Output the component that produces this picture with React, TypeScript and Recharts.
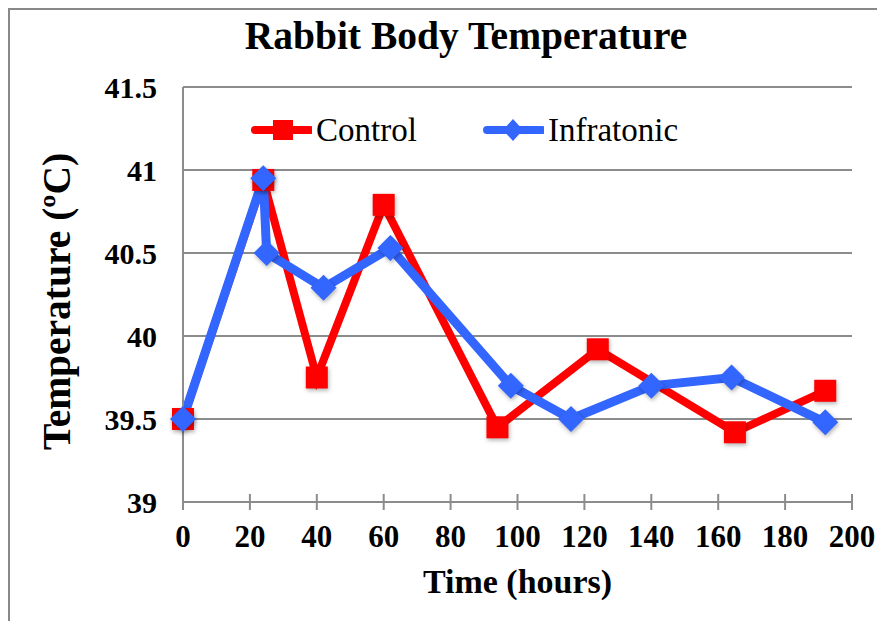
import { LineChart, Line, XAxis, YAxis, CartesianGrid, Legend, Label } from "recharts";

const controlHours = [0, 24, 40, 60, 94, 124, 165, 192];
const controlTemps = [39.5, 40.94, 39.75, 40.79, 39.45, 39.92, 39.42, 39.67];
const infraHours = [0, 24, 25, 42, 62, 98, 116, 140, 164, 192];
const infraTemps = [39.5, 40.95, 40.5, 40.29, 40.53, 39.7, 39.5, 39.7, 39.75, 39.48];
const xTicks = [0, 20, 40, 60, 80, 100, 120, 140, 160, 180, 200];
const yTicks = [39, 39.5, 40, 40.5, 41, 41.5];

const RED = "#ff0000";
const BLUE = "#3366ff";
const GRID = "#8c8c8c";
const FONT = "'Liberation Serif', 'Times New Roman', serif";
const SHADOW = "drop-shadow(1px 2px 2px rgba(0,0,0,0.3))";

const controlData = controlHours.map((h, i) => ({ hour: h, temp: controlTemps[i] }));
const infraData = infraHours.map((h, i) => ({ hour: h, temp: infraTemps[i] }));

function SquareDot(props: any) {
  const { cx, cy } = props;
  if (cx == null || cy == null) return null;
  return <rect x={cx - 11} y={cy - 11} width={22} height={22} fill={RED} style={{ filter: SHADOW }} />;
}

function DiamondDot(props: any) {
  const { cx, cy } = props;
  if (cx == null || cy == null) return null;
  const r = 13;
  return (
    <path
      d={`M${cx},${cy - r}L${cx + r},${cy}L${cx},${cy + r}L${cx - r},${cy}Z`}
      fill={BLUE}
      style={{ filter: SHADOW }}
    />
  );
}

function XTick(props: any) {
  const { x, y, payload } = props;
  const axisY = y - 8;
  return (
    <g>
      <line x1={x} x2={x} y1={axisY - 8} y2={axisY + 8} stroke={GRID} strokeWidth={2} />
      <text x={x} y={axisY + 45} textAnchor="middle" style={{ fontFamily: FONT, fontWeight: "bold", fontSize: 31 }} fill="#000">
        {payload.value}
      </text>
    </g>
  );
}

function LegendItem({ color, marker, label, width }: { color: string; marker: "square" | "diamond"; label: string; width: number }) {
  return (
    <div style={{ display: "flex", alignItems: "center", width }}>
      <svg width={62} height={40} style={{ display: "block", flex: "none" }}>
        <line x1={5} x2={60} y1={20} y2={20} stroke={color} strokeWidth={8} strokeLinecap="round" />
        {marker === "square" ? (
          <rect x={23} y={10} width={20} height={20} fill={color} />
        ) : (
          <path d="M31,9L41,20L31,31L21,20Z" fill={color} />
        )}
      </svg>
      <span style={{ fontFamily: FONT, fontWeight: "normal", fontSize: 33, lineHeight: "40px", color: "#000", marginLeft: 4 }}>{label}</span>
    </div>
  );
}

function LegendBox() {
  return (
    <div style={{ display: "flex", width: 460, height: 40 }}>
      <LegendItem color={RED} marker="square" label="Control" width={232} />
      <LegendItem color={BLUE} marker="diamond" label="Infratonic" width={228} />
    </div>
  );
}

export default function App() {
  return (
    <div
      style={{
        width: 877,
        height: 613,
        boxSizing: "border-box",
        borderTop: "2px solid #888",
        borderLeft: "2px solid #888",
        position: "relative",
        background: "#fff",
      }}
    >
      <div
        style={{
          position: "absolute",
          left: 0,
          width: 912,
          top: 4,
          textAlign: "center",
          fontFamily: FONT,
          fontWeight: "bold",
          fontSize: 39.5,
          lineHeight: "44px",
        }}
      >
        Rabbit Body Temperature
      </div>
      <LineChart width={875} height={611} margin={{ top: 77, right: 33, left: 0, bottom: 0 }}>
        <CartesianGrid vertical={false} stroke={GRID} strokeWidth={2} />
        <XAxis
          type="number"
          dataKey="hour"
          domain={[0, 200]}
          ticks={xTicks}
          height={119}
          tickLine={false}
          tickSize={8}
          tickMargin={0}
          axisLine={{ stroke: GRID, strokeWidth: 2 }}
          tick={<XTick />}
          allowDuplicatedCategory={false}
        >
          <Label
            content={(p: any) => {
              const vb = p.viewBox;
              return (
                <text x={vb.x + vb.width / 2} y={vb.y + 91} textAnchor="middle" style={{ fontFamily: FONT, fontWeight: "bold", fontSize: 34 }} fill="#000">
                  Time (hours)
                </text>
              );
            }}
          />
        </XAxis>
        <YAxis
          type="number"
          domain={[39, 41.5]}
          ticks={yTicks}
          width={173}
          tickLine={false}
          tickSize={0}
          tickMargin={26}
          axisLine={{ stroke: GRID, strokeWidth: 2 }}
          tick={{ fontFamily: FONT, fontWeight: "bold", fontSize: 30, fill: "#000" }}
        >
          <Label
            content={(p: any) => {
              const vb = p.viewBox;
              const cy = vb.y + vb.height / 2 + 7;
              return (
                <text x={47} y={cy} transform={`rotate(-90, 47, ${cy})`} textAnchor="middle" dominantBaseline="central" style={{ fontFamily: FONT, fontWeight: "bold", fontSize: 39.5 }} fill="#000">
                  Temperature (ºC)
                </text>
              );
            }}
          />
        </YAxis>
        <Legend
          layout="vertical"
          verticalAlign="middle"
          align="center"
          wrapperStyle={{ top: 100, left: 240, width: 460, height: 40 }}
          content={() => <LegendBox />}
        />
        <Line
          data={controlData}
          dataKey="temp"
          name="Control"
          stroke={RED}
          strokeWidth={8}
          dot={<SquareDot />}
          activeDot={false}
          isAnimationActive={false}
        />
        <Line
          data={infraData}
          dataKey="temp"
          name="Infratonic"
          stroke={BLUE}
          strokeWidth={9}
          dot={<DiamondDot />}
          activeDot={false}
          isAnimationActive={false}
        />
      </LineChart>
    </div>
  );
}
